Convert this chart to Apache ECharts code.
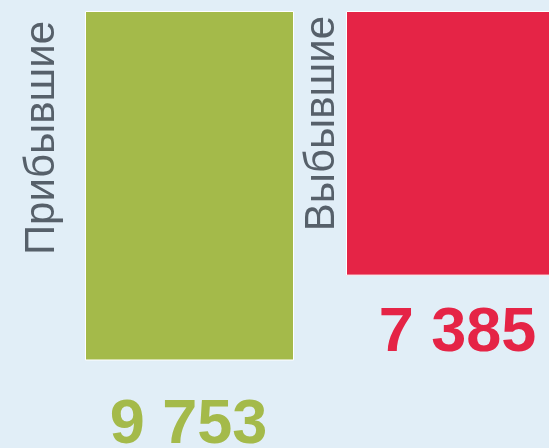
<!DOCTYPE html>
<html>
<head>
<meta charset="utf-8">
<script src="https://cdn.jsdelivr.net/npm/echarts@6/dist/echarts.min.js"></script>
<style>
html,body{margin:0;padding:0;background:#e1eef7;}
#chart{width:549px;height:448px;}
</style>
</head>
<body>
<div id="chart"></div>
<script>
// ---- data ----
const categories = ['Прибывшие', 'Выбывшие'];
const values = [9753, 7385];

// ---- styles ----
const barColors = ['#a4ba4a', '#e52446'];
const nameColor = '#56606a';
const nameOffsets = [[-43, 10], [-24, 5]];
const valueDistance = [34, 26];
const valueShiftX = [-1, 7];

function fmt(v) {
  return String(v).replace(/\B(?=(\d{3})+(?!\d))/g, ' ');
}

const chart = echarts.init(document.getElementById('chart'), null, {renderer: 'canvas'});
chart.setOption({
  backgroundColor: '#e1eef7',
  animation: false,
  grid: {left: 59, top: 11, width: 522, height: 430, outerBoundsMode: 'none', containLabel: false},
  xAxis: {
    type: 'category',
    data: categories,
    show: false
  },
  yAxis: {
    type: 'value',
    inverse: true,
    min: 0,
    max: 12000,
    show: false
  },
  series: [
    {
      type: 'bar',
      barWidth: 209,
      data: values.map((v, i) => ({
        value: v,
        itemStyle: {color: barColors[i], borderColor: '#ffffff', borderWidth: 1},
        label: {
          show: true,
          position: 'bottom',
          distance: valueDistance[i],
          offset: [valueShiftX[i], 0],
          formatter: p => fmt(p.value),
          color: barColors[i],
          fontFamily: 'Liberation Sans, Arial, sans-serif',
          fontWeight: 'bold',
          fontSize: 63
        }
      }))
    },
    {
      type: 'bar',
      barGap: '-100%',
      barWidth: 209,
      silent: true,
      data: values.map((v, i) => ({
        value: v,
        itemStyle: {color: 'rgba(0,0,0,0)'},
        label: {
          show: true,
          position: nameOffsets[i],
          rotate: 90,
          align: 'right',
          verticalAlign: 'middle',
          formatter: p => p.name,
          color: nameColor,
          fontFamily: 'Liberation Sans, Arial, sans-serif',
          fontSize: 42
        }
      }))
    }
  ]
});
</script>
</body>
</html>
